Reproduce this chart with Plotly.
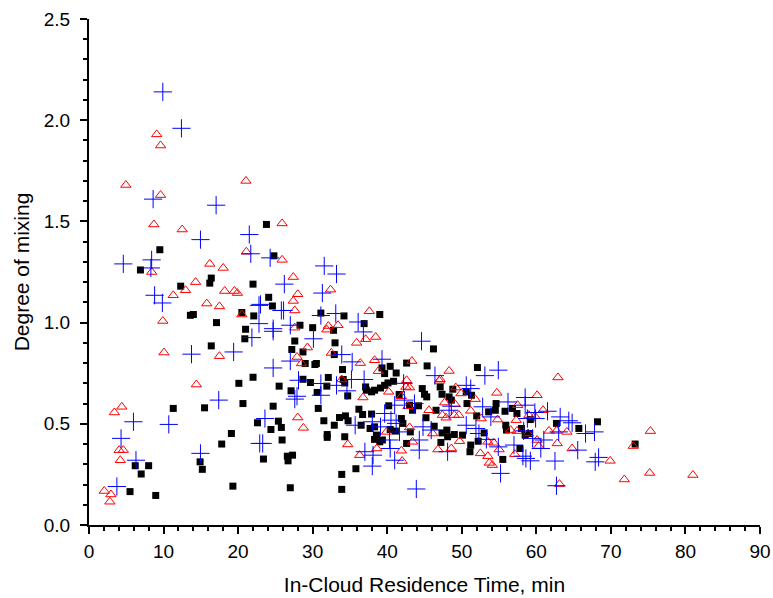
import plotly.graph_objects as go

# Black squares
sq_x = [9.5, 6.9, 12.3, 16.4, 16.2, 22.0, 13.6, 14.0, 17.1, 20.5, 22.1, 21.0, 20.9, 16.4, 22.0, 20.1, 20.65, 15.5, 11.3, 22.6,
        19.1, 17.8, 14.9, 15.2, 6.2, 8.0, 7.0, 5.5, 8.95, 19.3,
        23.8, 24.8, 24.1, 24.6, 31.1, 34.2, 39.0, 36.9, 28.3, 30.0,
        32.8, 27.6, 33.0, 27.2, 28.7, 32.9, 29.0, 30.3, 30.5, 40.4, 39.3, 39.65, 41.2, 42.6, 34.0, 28.7, 29.7, 32.1, 34.1, 34.3,
        25.5, 27.1, 31.9, 30.6, 34.7, 37.1, 37.2, 37.9, 38.3, 39.1, 39.65, 40.1, 40.85, 41.6, 40.2, 24.7, 30.75, 36.2, 36.7, 37.9,
        25.4, 25.8, 24.4, 31.5, 33.6, 34.4, 34.75, 32.9, 36.5, 37.7, 38.3, 38.55, 40.4, 41.1, 41.9, 42.1, 31.95, 31.95, 34.3, 25.9,
        38.3, 39.0, 39.35, 23.4, 26.6, 27.3, 26.7, 42.6, 35.8, 33.9, 27.0, 33.9,
        46.2, 45.35, 52.1,
        44.7, 47.1, 48.8, 45.0, 45.3, 47.35, 48.3, 48.6, 50.6, 51.3, 50.7, 43.0, 43.4, 44.2, 46.55, 52.0, 53.6, 54.5, 54.6, 55.8,
        56.8, 57.4, 45.2, 43.1, 46.3, 47.35, 48.0, 48.1, 47.2, 49.0, 50.1, 53.0, 52.2, 51.2, 51.1, 55.9, 56.0, 58.0, 58.5, 57.8,
        55.5,
        59.2, 62.7, 68.2, 65.7, 59.1, 73.25]
sq_y = [1.36, 1.26, 1.18, 1.22, 1.195, 1.19, 1.036, 1.04, 1.0, 1.05, 1.033, 0.967, 0.92, 0.885, 0.73, 0.70, 0.60, 0.579, 0.576, 0.505,
        0.452, 0.40, 0.312, 0.275, 0.293, 0.293, 0.252, 0.165, 0.146, 0.192,
        1.485, 1.33, 1.125, 1.082, 1.047, 1.033, 1.04, 0.995, 0.987, 0.975,
        0.962, 0.909, 0.90, 0.867, 0.855, 0.842, 0.798, 0.793, 0.798, 0.784, 0.776, 0.748, 0.751, 0.80, 0.768, 0.72, 0.704, 0.729, 0.719, 0.702,
        0.686, 0.663, 0.686, 0.655, 0.638, 0.682, 0.666, 0.658, 0.666, 0.677, 0.69, 0.702, 0.71, 0.645, 0.589, 0.587, 0.576, 0.572, 0.546, 0.548,
        0.513, 0.482, 0.472, 0.515, 0.531, 0.539, 0.515, 0.493, 0.493, 0.477, 0.485, 0.444, 0.472, 0.464, 0.526, 0.502, 0.447, 0.433, 0.436, 0.42,
        0.423, 0.411, 0.42, 0.326, 0.34, 0.345, 0.317, 0.403, 0.278, 0.25, 0.184, 0.176,
        0.87, 0.786, 0.778,
        0.674, 0.682, 0.671, 0.646, 0.633, 0.646, 0.633, 0.617, 0.658, 0.641, 0.60, 0.592, 0.567, 0.589, 0.567, 0.539, 0.559, 0.567, 0.60, 0.562,
        0.576, 0.551, 0.53, 0.46, 0.488, 0.455, 0.469, 0.436, 0.408, 0.447, 0.444, 0.455, 0.414, 0.395, 0.362, 0.493, 0.469, 0.477, 0.444, 0.378,
        0.324,
        0.521, 0.502, 0.51, 0.477, 0.452, 0.40]

# Red open triangles
tri_x = [9.08, 9.6, 4.94, 21.05, 9.6, 8.7, 12.5, 21.1, 8.4, 16.2, 18.0, 14.3, 12.95, 11.3, 18.2, 19.5, 19.9,
         15.8, 17.5, 9.9, 20.5, 10.05, 17.5, 14.4, 3.4, 4.4, 4.05, 4.6, 4.2, 2.05, 2.94, 2.8,
         25.9, 25.9, 27.4, 28.0, 32.4, 27.4, 27.6, 37.6, 32.1, 33.4, 27.6,
         31.9, 29.3, 35.9, 37.1, 38.45, 32.5, 27.9, 28.5, 36.4, 38.3, 38.8, 33.9, 36.75, 40.2, 42.5, 42.8, 28.0, 28.75, 39.9,
         34.7, 38.6, 41.9, 36.3, 42.0,
         43.3, 48.3, 47.1,
         42.6, 43.0, 47.0, 49.2, 54.7, 49.9, 51.8, 41.9, 47.7, 49.1, 45.6, 47.4, 47.9, 49.0, 49.6, 51.2, 52.6, 54.8, 57.5, 57.3,
         43.0, 46.1, 49.7, 53.5, 54.3, 52.5, 53.5, 53.7, 54.1, 55.0, 56.55, 57.4, 58.9, 57.1, 46.8, 48.6, 43.4,
         62.9, 60.1, 60.9, 59.0, 59.8, 61.7, 62.7, 64.1, 60.1, 60.3, 62.8, 64.8, 73.0, 69.9, 71.8, 63.1,
         75.3, 75.2, 81.0]
tri_y = [1.93, 1.875, 1.68, 1.70, 1.63, 1.485, 1.46, 1.35, 1.25, 1.29, 1.27, 1.20, 1.16, 1.135, 1.156, 1.156, 1.146,
         1.094, 1.08, 1.008, 1.04, 0.852, 0.834, 0.694, 0.556, 0.584, 0.37, 0.37, 0.32, 0.168, 0.151, 0.115,
         1.49, 1.31, 1.225, 1.14, 1.163, 1.107, 1.06, 1.056, 0.983, 0.987, 0.975,
         0.965, 0.877, 0.90, 0.918, 0.929, 0.85, 0.83, 0.798, 0.80, 0.814, 0.76, 0.719, 0.63, 0.658, 0.682, 0.587, 0.531, 0.48, 0.46,
         0.398, 0.378, 0.367, 0.345, 0.316,
         0.81, 0.761, 0.72,
         0.715, 0.679, 0.712, 0.679, 0.653, 0.65, 0.622, 0.636, 0.605, 0.597, 0.567, 0.543, 0.53, 0.543, 0.543, 0.564, 0.526, 0.521, 0.592, 0.518,
         0.482, 0.452, 0.414, 0.411, 0.406, 0.354, 0.34, 0.307, 0.296, 0.373, 0.469, 0.464, 0.452, 0.35, 0.373, 0.378, 0.411,
         0.729, 0.641, 0.567, 0.543, 0.538, 0.465, 0.465, 0.46, 0.42, 0.39, 0.403, 0.378, 0.39, 0.317, 0.225, 0.202,
         0.464, 0.257, 0.247]

# Blue crosses
crs_x = [9.9, 12.4, 8.6, 17.05, 14.95, 21.5, 21.7, 4.6, 8.4, 8.3, 8.8,
         9.84, 21.85, 22.8, 22.8, 13.75, 19.4, 17.4, 5.96, 10.7, 4.3, 22.9, 14.95, 6.3, 3.74,
         24.3, 31.55, 33.2, 26.2, 31.3, 23.0, 26.1, 25.8, 31.1, 33.1, 36.1, 27.0, 24.7,
         24.7, 36.8, 30.1, 33.9, 27.0, 35.3, 39.3, 24.7, 28.1, 31.1, 33.2, 35.2, 36.9, 31.1, 27.9, 27.6, 34.6, 42.2, 42.3, 41.0,
         39.65, 23.6, 35.7, 38.0, 39.1, 40.5, 41.2, 41.65, 23.3, 40.3, 40.4, 37.0, 38.1, 41.0, 38.0,
         44.6, 46.4, 53.1, 54.9,
         50.6, 51.2, 48.6, 48.3, 43.65, 52.8, 53.9, 56.2, 58.5, 58.8, 44.8, 45.9, 50.6, 51.9, 52.3, 53.3, 54.9, 58.3, 57.0, 58.2,
         58.6, 55.2, 48.1, 44.3, 44.3, 43.9,
         58.5, 61.5, 59.8, 59.9, 63.2, 64.35, 64.8, 66.6, 67.8, 63.0, 61.0, 59.5, 60.6, 65.55, 68.35, 67.9, 59.2, 62.5, 62.7]
crs_y = [2.14, 1.96, 1.61, 1.58, 1.41, 1.435, 1.34, 1.29, 1.31, 1.27, 1.135,
         1.097, 0.926, 0.995, 1.085, 0.844, 0.855, 0.617, 0.51, 0.497, 0.428, 0.403, 0.354, 0.32, 0.19,
         1.32, 1.28, 1.24, 1.19, 1.146, 1.09, 1.06, 1.06, 1.035, 1.045, 1.003, 0.987, 0.97,
         0.957, 0.954, 0.92, 0.842, 0.81, 0.806, 0.819, 0.776, 0.715, 0.699, 0.69, 0.719, 0.719, 0.641, 0.636, 0.622, 0.663, 0.70, 0.617, 0.592,
         0.551, 0.526, 0.493, 0.51, 0.485, 0.518, 0.502, 0.46, 0.403, 0.42, 0.378, 0.362, 0.345, 0.32, 0.291,
         0.908, 0.738, 0.738, 0.765,
         0.69, 0.674, 0.587, 0.567, 0.60, 0.584, 0.534, 0.608, 0.63, 0.526, 0.485, 0.469, 0.493, 0.477, 0.452, 0.423, 0.386, 0.465, 0.395, 0.34,
         0.329, 0.255, 0.362, 0.37, 0.42, 0.178,
         0.592, 0.562, 0.556, 0.526, 0.534, 0.515, 0.505, 0.452, 0.46, 0.46, 0.42, 0.428, 0.378, 0.37, 0.334, 0.312, 0.317, 0.316, 0.194]

x_title = "In-Cloud Residence Time, min"
y_title = "Degree of mixing"

fig = go.Figure()
fig.add_trace(go.Scatter(x=sq_x, y=sq_y, mode="markers",
                         marker=dict(symbol="square", size=7, color="black", line=dict(width=0))))
fig.add_trace(go.Scatter(x=tri_x, y=tri_y, mode="markers",
                         marker=dict(symbol="triangle-up-open", size=9, color="red", line=dict(width=1, color="red"))))
fig.add_trace(go.Scatter(x=crs_x, y=crs_y, mode="markers",
                         marker=dict(symbol="cross-thin-open", size=13, color="blue", line=dict(width=1, color="blue"))))

font = "Liberation Sans, Arial, sans-serif"
fig.update_layout(
    width=773, height=598,
    margin=dict(l=89, r=13, t=19, b=73),
    plot_bgcolor="white", paper_bgcolor="white",
    showlegend=False,
    font=dict(family=font, size=19, color="black"),
    xaxis=dict(range=[0, 90], dtick=10, tick0=0, showgrid=False, zeroline=False, automargin=False,
               showline=True, linecolor="black", linewidth=2,
               ticks="outside", ticklen=7, tickwidth=2, tickcolor="black",
               minor=dict(dtick=2, ticks="outside", ticklen=4, tickwidth=1.5, tickcolor="black", showgrid=False),
               tickfont=dict(size=19), ticklabelstandoff=1,
               title=dict(text=x_title, font=dict(size=21), standoff=17)),
    yaxis=dict(range=[0, 2.5], dtick=0.5, tick0=0, tickformat=".1f", showgrid=False, zeroline=False, automargin=False,
               showline=True, linecolor="black", linewidth=2,
               ticks="outside", ticklen=7, tickwidth=2, tickcolor="black",
               minor=dict(dtick=0.1, ticks="outside", ticklen=4, tickwidth=1.5, tickcolor="black", showgrid=False),
               tickfont=dict(size=19), ticklabelstandoff=6,
               title=dict(text=y_title, font=dict(size=21), standoff=8)),
)

fig.write_html("out.html", config={"displayModeBar": False},
               post_script="document.body.style.margin='0px';document.body.style.overflow='hidden';")
